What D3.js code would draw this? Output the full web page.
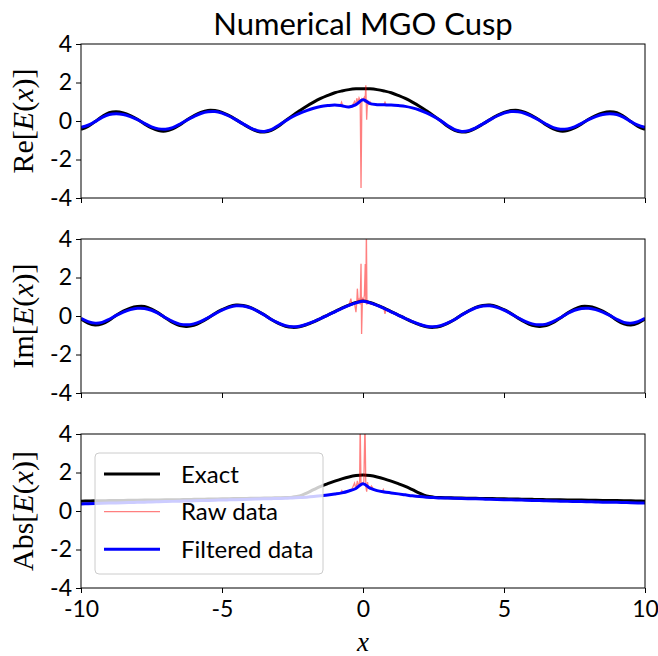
<!DOCTYPE html>
<html>
<head>
<meta charset="utf-8">
<script src="https://cdn.jsdelivr.net/npm/d3@7"></script>
<style>
  body { margin: 0; background: #fff; }
  svg text { font-family: Lato, "Open Sans", sans-serif; }
</style>
</head>
<body>
<div id="chart"></div>
<script>
// sample grid shared by the smooth curves
const xs = [-10,-9.75,-9.5,-9.25,-9,-8.75,-8.5,-8.25,-8,-7.75,-7.5,-7.25,-7,-6.75,-6.5,-6.25,-6,-5.75,-5.5,-5.25,
  -5,-4.75,-4.5,-4.25,-4,-3.75,-3.5,-3.25,-3,-2.75,-2.5,-2.25,-2,-1.75,-1.5,-1.25,-1,-0.75,-0.5,-0.25,
  0,0.25,0.5,0.75,1,1.25,1.5,1.75,2,2.25,2.5,2.75,3,3.25,3.5,3.75,4,4.25,4.5,4.75,
  5,5.25,5.5,5.75,6,6.25,6.5,6.75,7,7.25,7.5,7.75,8,8.25,8.5,8.75,9,9.25,9.5,9.75,10];

// Exact
const exactRe = [-0.43,-0.28,-0.03,0.23,0.43,0.48,0.42,0.28,0.09,-0.15,-0.36,-0.50,-0.52,-0.41,-0.21,0.05,0.27,0.45,0.55,0.54,
  0.45,0.28,0.07,-0.16,-0.37,-0.53,-0.57,-0.48,-0.27,0.02,0.28,0.53,0.77,0.98,1.17,1.33,1.47,1.56,1.63,1.67,
  1.68,1.67,1.63,1.56,1.47,1.33,1.17,0.98,0.77,0.53,0.28,0.02,-0.27,-0.48,-0.57,-0.53,-0.37,-0.16,0.07,0.28,
  0.45,0.54,0.55,0.45,0.27,0.05,-0.21,-0.41,-0.52,-0.50,-0.36,-0.15,0.09,0.28,0.42,0.48,0.43,0.23,-0.03,-0.28,-0.43];
const exactIm = [-0.16,-0.37,-0.47,-0.41,-0.22,0.04,0.25,0.41,0.49,0.49,0.36,0.15,-0.10,-0.34,-0.50,-0.54,-0.48,-0.32,-0.11,0.13,
  0.33,0.49,0.57,0.55,0.45,0.27,0.06,-0.18,-0.38,-0.53,-0.59,-0.56,-0.45,-0.30,-0.13,0.05,0.23,0.41,0.57,0.70,
  0.78,0.70,0.57,0.41,0.23,0.05,-0.13,-0.30,-0.45,-0.56,-0.59,-0.53,-0.38,-0.18,0.06,0.27,0.45,0.55,0.57,0.49,
  0.33,0.13,-0.11,-0.32,-0.48,-0.54,-0.50,-0.34,-0.10,0.15,0.36,0.49,0.49,0.41,0.25,0.04,-0.22,-0.41,-0.47,-0.37,-0.16];
const exactAbs = [0.51,0.52,0.53,0.535,0.54,0.545,0.55,0.555,0.56,0.565,0.57,0.575,0.58,0.585,0.59,0.6,0.605,0.61,0.62,0.625,
  0.63,0.64,0.645,0.65,0.66,0.665,0.67,0.68,0.69,0.70,0.72,0.78,0.93,1.11,1.28,1.42,1.55,1.67,1.77,1.84,
  1.87,1.84,1.77,1.67,1.55,1.42,1.28,1.11,0.93,0.78,0.72,0.70,0.69,0.68,0.67,0.665,0.66,0.65,0.645,0.64,
  0.63,0.625,0.62,0.61,0.605,0.6,0.59,0.585,0.58,0.575,0.57,0.565,0.56,0.555,0.55,0.545,0.54,0.535,0.53,0.52,0.51];

// Filtered data
const filtRe = [-0.33,-0.22,-0.03,0.19,0.34,0.38,0.34,0.23,0.07,-0.12,-0.30,-0.41,-0.43,-0.34,-0.17,0.04,0.23,0.39,0.48,0.49,
  0.41,0.26,0.06,-0.15,-0.35,-0.50,-0.54,-0.45,-0.23,0.0,0.22,0.40,0.54,0.66,0.75,0.80,0.83,0.79,0.73,0.85,
  1.10,0.90,0.85,0.84,0.83,0.80,0.76,0.68,0.57,0.42,0.24,0.02,-0.23,-0.45,-0.54,-0.50,-0.35,-0.15,0.06,0.26,
  0.41,0.49,0.48,0.39,0.23,0.04,-0.17,-0.34,-0.43,-0.41,-0.30,-0.12,0.07,0.23,0.34,0.38,0.34,0.19,-0.03,-0.22,-0.33];
const filtIm = [-0.12,-0.29,-0.37,-0.33,-0.17,0.03,0.20,0.33,0.40,0.39,0.30,0.13,-0.09,-0.28,-0.42,-0.46,-0.41,-0.28,-0.09,0.11,
  0.30,0.45,0.53,0.52,0.43,0.26,0.05,-0.18,-0.36,-0.50,-0.56,-0.53,-0.43,-0.29,-0.13,0.05,0.22,0.39,0.55,0.68,
  0.76,0.68,0.55,0.39,0.22,0.05,-0.13,-0.29,-0.43,-0.53,-0.56,-0.50,-0.36,-0.18,0.05,0.26,0.43,0.52,0.53,0.45,
  0.30,0.11,-0.09,-0.28,-0.41,-0.46,-0.42,-0.28,-0.09,0.13,0.30,0.39,0.40,0.33,0.20,0.03,-0.17,-0.33,-0.37,-0.29,-0.12];
const filtAbs = [0.37,0.38,0.39,0.40,0.41,0.42,0.43,0.44,0.45,0.46,0.47,0.48,0.49,0.50,0.51,0.52,0.53,0.54,0.55,0.56,
  0.57,0.58,0.59,0.60,0.61,0.62,0.63,0.64,0.65,0.66,0.68,0.70,0.72,0.75,0.79,0.83,0.88,0.94,1.04,1.17,
  1.42,1.19,1.06,0.99,0.94,0.89,0.84,0.79,0.75,0.72,0.70,0.68,0.67,0.66,0.65,0.64,0.63,0.62,0.61,0.60,
  0.59,0.58,0.57,0.56,0.55,0.54,0.53,0.52,0.51,0.50,0.495,0.49,0.48,0.47,0.46,0.455,0.45,0.44,0.43,0.42,0.41];

// Raw data around the cusp (elsewhere it sits on the filtered curve)
const rawReX = [-0.95,-0.8,-0.76,-0.72,-0.6,-0.5,-0.4,-0.34,-0.3,-0.26,-0.22,-0.18,-0.14,-0.1,-0.07,-0.04,0,0.04,0.07,0.1,
  0.13,0.16,0.2,0.25,0.3,0.4,0.5,0.6,0.74,0.78,0.82,0.95];
const rawRe = [0.84,0.82,0.98,0.8,0.77,0.74,0.74,0.9,1.02,0.86,1.18,0.95,1.2,1.05,-3.48,1.15,1.1,1.22,0.95,1.85,
  0.06,1.1,0.88,1.0,0.86,0.9,0.85,0.84,0.84,0.98,0.84,0.83];
const rawImX = [-0.95,-0.8,-0.76,-0.72,-0.6,-0.5,-0.43,-0.4,-0.3,-0.25,-0.22,-0.2,-0.17,-0.14,-0.1,-0.07,-0.05,-0.02,0.02,0.05,
  0.08,0.1,0.12,0.14,0.2,0.3,0.4,0.5,0.6,0.74,0.78,0.82,0.95];
const rawIm = [0.26,0.35,0.37,0.4,0.47,0.55,0.9,0.6,0.66,0.2,0.7,1.42,0.72,0.85,0.6,2.72,-0.93,0.9,0.8,1.1,
  2.7,0.65,4.5,0.63,0.68,0.62,0.58,0.55,0.48,0.4,0.11,0.36,0.27];
const rawAbsX = [-0.95,-0.8,-0.75,-0.7,-0.6,-0.5,-0.4,-0.3,-0.25,-0.2,-0.15,-0.12,-0.1,-0.07,-0.03,0,0.03,0.07,0.1,0.13,
  0.16,0.19,0.25,0.3,0.4,0.5,0.6,0.68,0.72,0.76,0.95];
const rawAbs = [0.88,0.92,1.06,0.93,0.97,1.04,1.1,1.45,1.15,1.56,1.25,1.5,4.5,1.3,1.45,1.42,1.55,4.6,1.3,1.0,
  1.5,1.2,1.15,1.3,1.07,1.05,1.0,0.97,1.12,0.97,0.94];

const xTicks = [-10, -5, 0, 5, 10];
const yTicks = [-4, -2, 0, 2, 4];
const legendLabels = ["Exact", "Raw data", "Filtered data"];

const width = 658, height = 656;
const left = 81, right = 645, panelH = 154;
const tops = [44, 239, 434];

const panels = [
  {name: "Re", exact: exactRe, filt: filtRe, rawX: rawReX, raw: rawRe},
  {name: "Im", exact: exactIm, filt: filtIm, rawX: rawImX, raw: rawIm},
  {name: "Abs", exact: exactAbs, filt: filtAbs, rawX: rawAbsX, raw: rawAbs}
];

const svg = d3.select("#chart").append("svg")
  .attr("width", width)
  .attr("height", height);

const x = d3.scaleLinear().domain([-10, 10]).range([left, right]);

svg.append("text")
  .attr("x", (left + right) / 2)
  .attr("y", 35)
  .attr("text-anchor", "middle")
  .style("font-size", "31px")
  .text("Numerical MGO Cusp");

panels.forEach((p, i) => {
  const top = tops[i];
  const y = d3.scaleLinear().domain([-4, 4]).range([top + panelH, top]);
  const g = svg.append("g");

  g.append("clipPath").attr("id", "clip" + i)
    .append("rect").attr("x", left).attr("y", top).attr("width", right - left).attr("height", panelH);

  const smooth = d3.line().x(d => x(d[0])).y(d => y(d[1])).curve(d3.curveCatmullRom.alpha(0.5));
  const straight = d3.line().x(d => x(d[0])).y(d => y(d[1]));

  const exactPts = xs.map((v, k) => [v, p.exact[k]]);
  const filtPts = xs.map((v, k) => [v, p.filt[k]]);
  // raw = noisy samples near 0, filtered curve further out
  const rawPts = filtPts.filter(d => Math.abs(d[0]) >= 1)
    .concat(p.rawX.map((v, k) => [v, p.raw[k]]))
    .sort((a, b) => a[0] - b[0]);

  const plot = g.append("g").attr("clip-path", `url(#clip${i})`);
  plot.append("path").attr("d", smooth(exactPts))
    .attr("fill", "none").attr("stroke", "black").attr("stroke-width", 3);
  plot.append("path").attr("d", straight(rawPts))
    .attr("fill", "none").attr("stroke", "red").attr("stroke-opacity", 0.5).attr("stroke-width", 1.3);
  plot.append("path").attr("d", smooth(filtPts))
    .attr("fill", "none").attr("stroke", "blue").attr("stroke-width", 3);

  // axes
  const yAxis = g.append("g").attr("transform", `translate(${left},0)`)
    .call(d3.axisLeft(y).tickValues(yTicks).tickSize(5).tickPadding(4).tickFormat(d => String(d)));
  const xAxis = g.append("g").attr("transform", `translate(0,${top + panelH})`)
    .call(d3.axisBottom(x).tickValues(xTicks).tickSize(5).tickPadding(8)
      .tickFormat(i === 2 ? (d => String(d)) : () => ""));
  [yAxis, xAxis].forEach(a => {
    a.select(".domain").remove();
    a.selectAll("line").attr("stroke", "black").attr("stroke-width", 1);
    a.selectAll("text").style("font-size", "23px").style("font-family", "Lato, sans-serif").attr("fill", "black");
  });

  g.append("rect")
    .attr("x", left).attr("y", top).attr("width", right - left).attr("height", panelH)
    .attr("fill", "none").attr("stroke", "black").attr("stroke-width", 1);

  // y label, e.g. Re[E(x)]
  const lab = g.append("text")
    .attr("transform", `translate(33,${top + panelH / 2}) rotate(-90)`)
    .attr("text-anchor", "middle")
    .style("font-family", "'Liberation Serif', 'DejaVu Serif', serif")
    .style("font-size", "30px");
  [[p.name, false], ["[", false], ["E", true], ["(", false], ["x", true], [")", false], ["]", false]]
    .forEach(([t, it]) => lab.append("tspan").style("font-style", it ? "italic" : "normal")
      .style("font-family", "'Liberation Serif', 'DejaVu Serif', serif").text(t));

  if (i === 2) {
    const lg = g.append("g");
    lg.append("rect")
      .attr("x", 95).attr("y", 453).attr("width", 228).attr("height", 121)
      .attr("rx", 4)
      .attr("fill", "white").attr("fill-opacity", 0.8)
      .attr("stroke", "#cccccc").attr("stroke-width", 1);
    const styles = [
      {stroke: "black", w: 3, op: 1},
      {stroke: "red", w: 1.3, op: 0.5},
      {stroke: "blue", w: 3, op: 1}
    ];
    legendLabels.forEach((t, k) => {
      const ly = 474 + k * 37.6;
      lg.append("line").attr("x1", 104).attr("x2", 160).attr("y1", ly).attr("y2", ly)
        .attr("stroke", styles[k].stroke).attr("stroke-width", styles[k].w).attr("stroke-opacity", styles[k].op);
      lg.append("text").attr("x", 181).attr("y", ly + 8.5)
        .style("font-size", "24px").text(t);
    });
  }
});

svg.append("text")
  .attr("x", (left + right) / 2)
  .attr("y", 651)
  .attr("text-anchor", "middle")
  .style("font-family", "'Liberation Serif', 'DejaVu Serif', serif")
  .style("font-style", "italic")
  .style("font-size", "27px")
  .text("x");
</script>
</body>
</html>
